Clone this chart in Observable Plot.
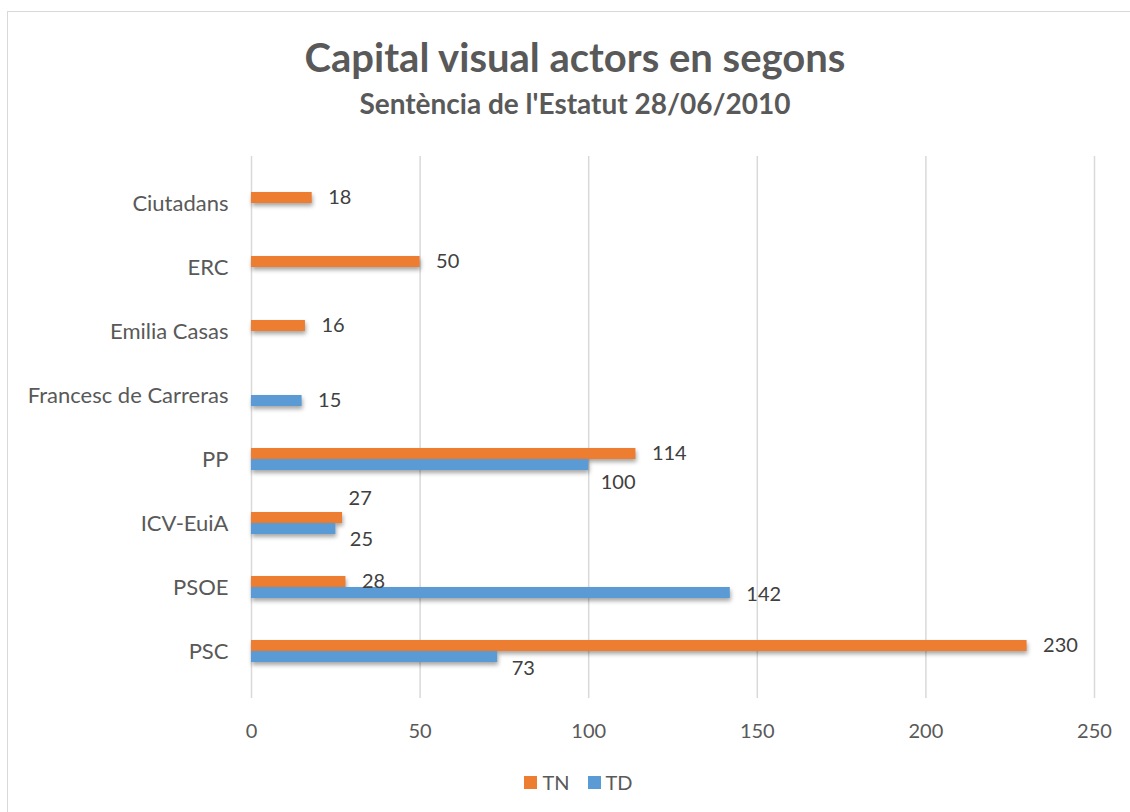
<!DOCTYPE html>
<html>
<head>
<meta charset="utf-8">
<script src="https://cdn.jsdelivr.net/npm/d3@7"></script>
<script src="https://cdn.jsdelivr.net/npm/@observablehq/plot@0.6"></script>
<style>
  html, body { margin: 0; padding: 0; background: #fff; overflow: hidden; }
  #chart { position: relative; width: 1130px; height: 812px; font-family: Lato, "Open Sans", sans-serif; color: #595959; }
  #frame { position: absolute; left: 7px; top: 11px; width: 1140px; height: 820px; border: 1.5px solid #d9d9d9; box-sizing: border-box; }
  .title { position: absolute; left: 0; width: 1150px; text-align: center; font-weight: bold; white-space: nowrap; }
  #t1 { top: 34px; font-size: 40px; line-height: 46px; }
  #t2 { top: 88px; font-size: 28px; line-height: 30px; }
  #plotbox { position: absolute; left: 0; top: 130px; }
  #legend { position: absolute; top: 770px; left: 0; width: 1130px; display: flex; justify-content: center; gap: 18px; font-size: 20px; padding-left: 27px; box-sizing: border-box; }
  #legend span { display: inline-flex; align-items: center; gap: 5px; }
  #legend i { display: inline-block; width: 13px; height: 13px; }
  .bars g[aria-label="bar"] { filter: drop-shadow(1px 3px 2px rgba(0,0,0,0.35)); }
  .bars g[aria-label="y-axis tick label"] { font-size: 22px; }
</style>
</head>
<body>
<div id="chart">
  <div id="frame"></div>
  <div class="title" id="t1">Capital visual actors en segons</div>
  <div class="title" id="t2">Sentència de l'Estatut 28/06/2010</div>
  <div id="plotbox"></div>
  <div id="legend"></div>
</div>
<script>
const parties = ["Ciutadans", "ERC", "Emilia Casas", "Francesc de Carreras", "PP", "ICV-EuiA", "PSOE", "PSC"];
const tnValues = [18, 50, 16, null, 114, 27, 28, 230];
const tdValues = [null, null, null, 15, 100, 25, 142, 73];
const seriesNames = ["TN", "TD"];
const seriesColors = ["#ED7D31", "#5B9BD5"];
const xTicks = [0, 50, 100, 150, 200, 250];

const rows = [];
parties.forEach((p, i) => {
  if (tnValues[i] != null) rows.push({party: p, series: "TN", value: tnValues[i]});
  if (tdValues[i] != null) rows.push({party: p, series: "TD", value: tdValues[i]});
});

// label nudges (styling only): manual label placement as in the original
const nudge = {
  "PP|TD": {dx: 12, dy: 23},
  "ICV-EuiA|TN": {dx: 6, dy: -25},
  "ICV-EuiA|TD": {dx: 14, dy: 16},
  "PSOE|TD": {dx: 16, dy: 7},
  "PSC|TD": {dx: 14, dy: 17}
};

const labelMarks = rows.map(r => {
  const n = nudge[r.party + "|" + r.series] || {dx: 16, dy: r.series === "TN" ? -5.5 : 5.5};
  return Plot.text([r], {x: "value", y: "party", text: d => String(d.value), textAnchor: "start",
    dx: n.dx, dy: n.dy, fill: "#404040", fontSize: 20});
});

const colorOf = s => seriesColors[seriesNames.indexOf(s)];

const chart = Plot.plot({
  width: 1130,
  height: 630,
  marginTop: 26,
  marginBottom: 62,
  marginLeft: 251,
  marginRight: 36,
  className: "bars",
  style: {fontFamily: "Lato, 'Open Sans', sans-serif", fontSize: "20px", color: "#595959", background: "transparent"},
  x: {domain: [0, 250], ticks: xTicks, tickSize: 0, tickPadding: 25, label: null},
  y: {domain: parties, paddingInner: 0, paddingOuter: 0.234, tickSize: 0, tickPadding: 23, label: null},
  marks: [
    Plot.gridX(xTicks, {stroke: "#d9d9d9", strokeOpacity: 1, strokeWidth: 1.5}),
    Plot.barX(rows.filter(d => d.series === "TN"), {x: "value", y: "party", fill: d => colorOf(d.series), insetTop: 21, insetBottom: 32}),
    Plot.barX(rows.filter(d => d.series === "TD"), {x: "value", y: "party", fill: d => colorOf(d.series), insetTop: 32, insetBottom: 21}),
    ...labelMarks
  ]
});
document.getElementById("plotbox").appendChild(chart);

const legend = document.getElementById("legend");
seriesNames.forEach((s, i) => {
  const span = document.createElement("span");
  span.innerHTML = `<i style="background:${seriesColors[i]}"></i>${s}`;
  legend.appendChild(span);
});
</script>
</body>
</html>
